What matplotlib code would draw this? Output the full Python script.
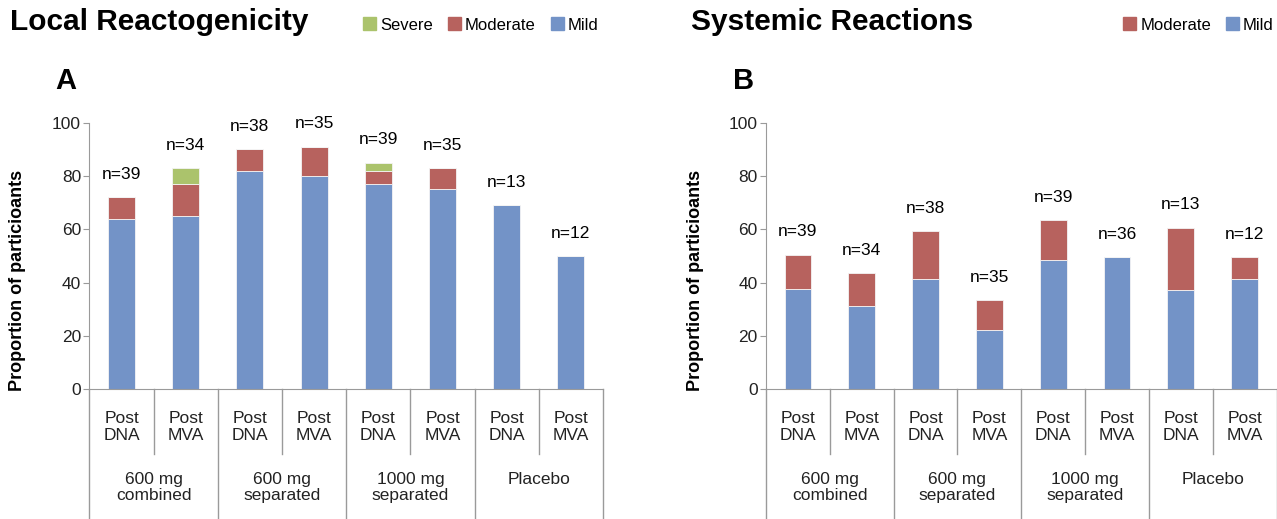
import matplotlib.pyplot as plt
import matplotlib.transforms as mtransforms
from matplotlib.patches import Patch
import numpy as np

plt.rcParams["font.family"] = ["Liberation Sans", "DejaVu Sans"]

sub_labels = ["Post\nDNA", "Post\nMVA"] * 4
group_labels = ["600 mg\ncombined", "600 mg\nseparated", "1000 mg\nseparated", "Placebo"]

# panel A - local reactogenicity (% of participants)
local_mild = [64, 65, 82, 80, 77, 75, 69, 50]
local_moderate = [8, 12, 8, 11, 5, 8, 0, 0]
local_severe = [0, 6, 0, 0, 3, 0, 0, 0]
local_n = [39, 34, 38, 35, 39, 35, 13, 12]

# panel B - systemic reactions
sys_mild = [37.5, 31.3, 41.3, 22.4, 48.4, 49.6, 37.4, 41.3]
sys_moderate = [13, 12.3, 18, 11.1, 15.1, 0, 23.2, 8.3]
sys_n = [39, 34, 38, 35, 39, 36, 13, 12]

c_mild = "#7393C7"
c_mod = "#B7625E"
c_sev = "#ABC36C"
grey = "#9A9A9A"

W, H = 1277, 519
fig = plt.figure(figsize=(W / 100, H / 100), dpi=100)


def make_panel(rect, layers, n_vals):
    ax = fig.add_axes(rect)
    x = np.arange(len(n_vals))
    bottom = np.zeros(len(n_vals))
    for vals, col in layers:
        vals = np.array(vals, dtype=float)
        ax.bar(x, vals, width=0.42, bottom=bottom, color=col,
               edgecolor="#F4F4F4", linewidth=0.6)
        bottom += vals
    for xi, top, n in zip(x, bottom, n_vals):
        ax.annotate(f"n={n}", (xi, top), xytext=(0, 16.5), textcoords="offset points",
                    ha="center", va="center", fontsize=12.5)
    ax.set_xlim(-0.5, len(n_vals) - 0.5)
    ax.set_ylim(0, 100)
    ax.set_yticks(range(0, 101, 20))
    ax.tick_params(axis="y", labelsize=12.5, length=4, color=grey, pad=2,
                   labelcolor="#222222")
    ax.set_xticks([])
    for s in ["top", "right"]:
        ax.spines[s].set_visible(False)
    ax.spines["left"].set_color(grey)
    ax.spines["bottom"].set_color(grey)

    # category table under the axis
    tr = mtransforms.blended_transform_factory(ax.transData, ax.transAxes)
    for i in range(len(n_vals) + 1):
        xb = i - 0.5
        y_end = -0.49 if i % 2 == 0 else -0.243
        ax.plot([xb, xb], [0, y_end], color=grey, lw=1, transform=tr, clip_on=False)
    for xi, lab in zip(x, sub_labels):
        ax.text(xi, -0.141, lab, transform=tr, ha="center", va="center",
                fontsize=12.5, linespacing=1.12, color="#222222")
    for g, lab in enumerate(group_labels):
        ax.text(2 * g + 0.5, -0.31, lab, transform=tr, ha="center", va="top",
                fontsize=12.5, linespacing=1.12, color="#222222")
    return ax


bot = 1 - 389.3 / H
hgt = (389.3 - 122.7) / H
axA = make_panel([89.4 / W, bot, 513.6 / W, hgt],
                 [(local_mild, c_mild), (local_moderate, c_mod), (local_severe, c_sev)],
                 local_n)
axB = make_panel([766 / W, bot, 510.5 / W, hgt],
                 [(sys_mild, c_mild), (sys_moderate, c_mod)],
                 sys_n)

# titles, panel letters, axis labels
fig.text(10 / W, 1 - 22 / H, "Local Reactogenicity", fontsize=21.5, fontweight="bold",
         ha="left", va="center")
fig.text(691 / W, 1 - 22 / H, "Systemic Reactions", fontsize=21.5, fontweight="bold",
         ha="left", va="center")
fig.text(55 / W, 1 - 81 / H, "A", fontsize=21, fontweight="bold", ha="left", va="center")
fig.text(733 / W, 1 - 81 / H, "B", fontsize=21, fontweight="bold", ha="left", va="center")
for xl in (18, 696):
    fig.text(xl / W, 1 - 280 / H, "Proportion of particioants", rotation=90,
             fontsize=13, fontweight="bold", ha="center", va="center")

leg_kw = dict(frameon=False, handlelength=0.78, handleheight=0.78, handletextpad=0.25,
              columnspacing=0.9, fontsize=12, borderpad=0, borderaxespad=0,
              loc="center left")
fig.legend(handles=[Patch(color=c_sev, label="Severe"), Patch(color=c_mod, label="Moderate"),
                    Patch(color=c_mild, label="Mild")],
           ncol=3, bbox_to_anchor=(363 / W, 1 - 25 / H), **leg_kw)
fig.legend(handles=[Patch(color=c_mod, label="Moderate"), Patch(color=c_mild, label="Mild")],
           ncol=2, bbox_to_anchor=(1123 / W, 1 - 25 / H), **leg_kw)

fig.savefig("out.png", dpi=100)
